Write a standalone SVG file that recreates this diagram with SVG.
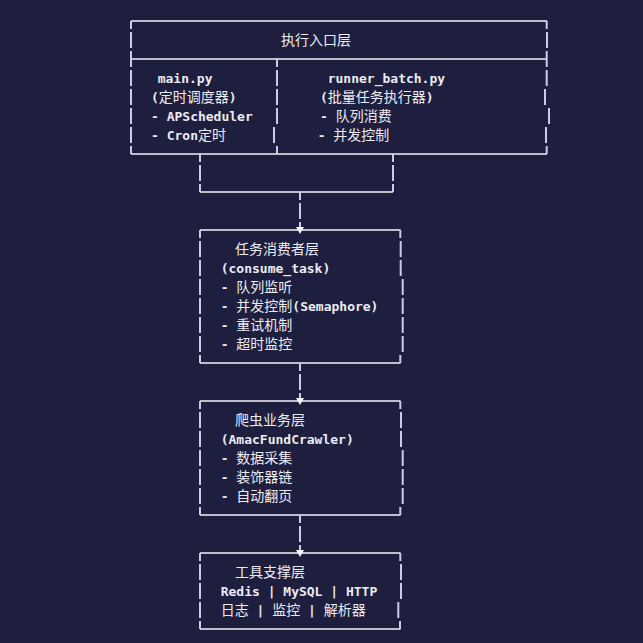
<svg xmlns="http://www.w3.org/2000/svg" width="643" height="643" viewBox="0 0 643 643">
  <defs>
    <style>
      .bg { fill: #1e1e3e; }
      .h { stroke: #f4f4fa; stroke-width: 1.5; fill: none; }
      .v { stroke: #c9cce2; stroke-width: 2; fill: none; }
      .arrow { fill: #f4f4fa; }
      .t { font-family: "DejaVu Sans Mono", "Liberation Mono", "Noto Sans CJK SC", monospace; font-size: 13px; font-weight: bold; fill: #ececf4; }
      .c { font-family: "Noto Sans CJK SC", sans-serif; font-size: 14px; font-weight: normal; }
    </style>
  </defs>
  <rect class="bg" x="0" y="0" width="643" height="643"/>

  <g id="entry-layer">
    <path class="h" d="M131 21 H547 M131 59 H547 M131 154 H547"/>
    <path class="v" d="M131 21 V29 M131 32 V48 M131 51 V67 M131 70 V86 M131 89 V105 M131 108 V124 M131 127 V143 M131 146 V154"/>
    <path class="v" d="M546.7 21 V29 M547 32 V48 M546.7 51 V67 M546.7 70 V86 M545 89 V105 M549 108 V124 M546 127 V143 M546.7 146 V154"/>
    <path class="v" d="M277 59 V67 M277 70 V86 M277 89 V105 M277 108 V124 M274 127 V143 M277 146 V154"/>
    <text class="t" x="281" y="45"><tspan class="c">执行入口层</tspan></text>
    <text class="t" x="157.7" y="83">main.py</text>
    <text class="t" x="151" y="102">(<tspan class="c">定时调度器</tspan>)</text>
    <text class="t" x="151" y="121">- APScheduler</text>
    <text class="t" x="151" y="140">- Cron<tspan class="c">定时</tspan></text>
    <text class="t" x="327.7" y="83">runner_batch.py</text>
    <text class="t" x="320" y="102">(<tspan class="c">批量任务执行器</tspan>)</text>
    <text class="t" x="320" y="121">- <tspan class="c">队列消费</tspan></text>
    <text class="t" x="317.7" y="140">- <tspan class="c">并发控制</tspan></text>
  </g>

  <g id="consumer-layer">
    <path class="h" d="M200 230 H400.5 M200 363 H400.5"/>
    <path class="v" d="M200 230 V238 M200 241 V257 M200 260 V276 M200 279 V295 M200 298 V314 M200 317 V333 M200 336 V352 M200 355 V363"/>
    <path class="v" d="M400.3 230 V238 M400.7 241 V257 M400.7 260 V276 M402.7 279 V295 M402.7 298 V314 M402.7 317 V333 M402.7 336 V352 M400.3 355 V363"/>
    <text class="t" x="235" y="254"><tspan class="c">任务消费者层</tspan></text>
    <text class="t" x="220.7" y="273">(consume_task)</text>
    <text class="t" x="220.7" y="292">- <tspan class="c">队列监听</tspan></text>
    <text class="t" x="220.7" y="311">- <tspan class="c">并发控制</tspan>(Semaphore)</text>
    <text class="t" x="220.7" y="330">- <tspan class="c">重试机制</tspan></text>
    <text class="t" x="220.7" y="349">- <tspan class="c">超时监控</tspan></text>
  </g>

  <g id="crawler-layer">
    <path class="h" d="M200 401 H400.5 M200 515 H400.5"/>
    <path class="v" d="M200 401 V409 M200 412 V428 M200 431 V447 M200 450 V466 M200 469 V485 M200 488 V504 M200 507 V515"/>
    <path class="v" d="M400.3 401 V409 M401 412 V428 M401 431 V447 M402.7 450 V466 M402.7 469 V485 M402.7 488 V504 M400.3 507 V515"/>
    <text class="t" x="235" y="425"><tspan class="c">爬虫业务层</tspan></text>
    <text class="t" x="220.7" y="444">(AmacFundCrawler)</text>
    <text class="t" x="220.7" y="463">- <tspan class="c">数据采集</tspan></text>
    <text class="t" x="220.7" y="482">- <tspan class="c">装饰器链</tspan></text>
    <text class="t" x="220.7" y="501">- <tspan class="c">自动翻页</tspan></text>
  </g>

  <g id="tool-layer">
    <path class="h" d="M200 553 H400.5 M200 629 H400.5"/>
    <path class="v" d="M200 553 V561 M200 564 V580 M200 583 V599 M200 602 V618 M200 621 V629"/>
    <path class="v" d="M400.3 553 V561 M401 564 V580 M401 583 V599 M398.3 602 V618 M400 621 V629"/>
    <text class="t" x="235" y="577"><tspan class="c">工具支撑层</tspan></text>
    <text class="t" x="220.7" y="596">Redis | MySQL | HTTP</text>
    <text class="t" x="220.7" y="615"><tspan class="c">日志</tspan> | <tspan class="c">监控</tspan> | <tspan class="c">解析器</tspan></text>
  </g>

  <g id="connectors">
    <path class="v" d="M200 154 V162 M200 165 V181 M200 184 V192 M393 154 V162 M393 165 V181 M393 184 V192"/>
    <path class="h" d="M200 192 H393"/>
    <path class="v" d="M300 192 V200 M300 203 V219 M300 222 V228"/>
    <polygon class="arrow" points="296,227 304,227 300,234"/>
    <path class="v" d="M300 363 V371 M300 374 V390 M300 393 V399"/>
    <polygon class="arrow" points="296,398 304,398 300,405"/>
    <path class="v" d="M300 515 V523 M300 526 V542 M300 545 V551"/>
    <polygon class="arrow" points="296,550 304,550 300,557"/>
  </g>
</svg>
